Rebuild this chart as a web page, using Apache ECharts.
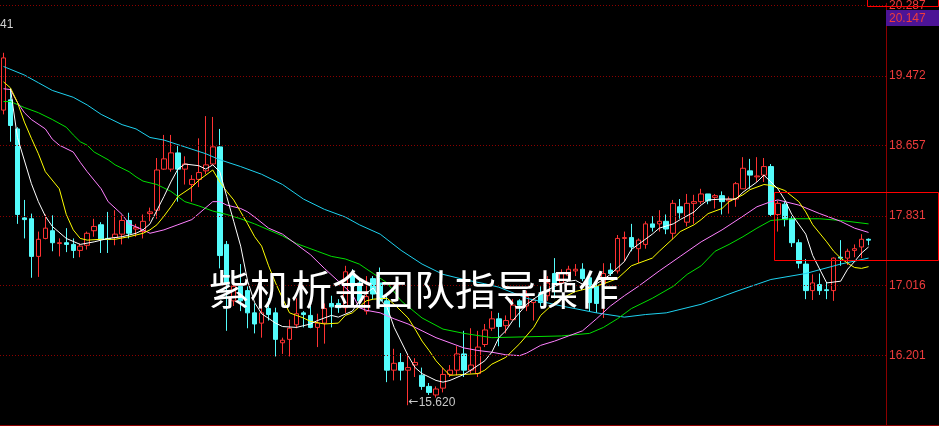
<!DOCTYPE html>
<html><head><meta charset="utf-8">
<script src="https://cdn.jsdelivr.net/npm/echarts@6/dist/echarts.min.js"></script>
<style>html,body{margin:0;padding:0;background:#000;}#c{width:939px;height:426px;}</style>
</head><body><div id="c"></div>
<script>
// ---- tick labels / annotations ----
const yTicks = [20.287, 19.472, 18.657, 17.831, 17.016, 16.201];
const lastPrice = 20.147;
const lowPrice = 15.620;
const lowIndex = 58;
const watermark = '紫机析金团队指导操作';
const cornerText = '41';
const boxStartIndex = 111, boxTop = 18.115, boxBottom = 17.315;
const topBoxIndex = 124, topBoxBottom = 20.285;

// ---- candles: [open, close, low, high] ----
const ohlc = [
[19.07,19.68,19.02,19.74],[19.19,18.89,18.70,19.32],[18.85,17.85,17.74,18.87],[17.81,17.79,17.57,18.02],
[17.80,17.36,17.11,17.86],[17.36,17.56,17.12,17.65],[17.57,17.69,17.56,17.85],[17.66,17.52,17.42,17.84],
[17.51,17.52,17.36,17.57],[17.52,17.50,17.41,17.69],[17.50,17.43,17.34,17.57],[17.43,17.48,17.35,17.51],
[17.49,17.63,17.44,17.65],[17.66,17.71,17.59,17.80],[17.73,17.56,17.40,17.76],[17.57,17.56,17.40,17.88],
[17.58,17.62,17.49,17.90],[17.62,17.78,17.50,17.84],[17.78,17.63,17.57,17.87],[17.68,17.70,17.59,17.74],
[17.65,17.77,17.57,17.85],[17.86,17.88,17.77,17.93],[17.90,18.37,17.80,18.51],[18.38,18.50,18.37,18.78],
[18.38,18.57,18.35,18.78],[18.57,18.38,18.00,18.65],[18.38,18.44,18.20,18.53],[18.20,18.26,18.00,18.31],
[18.26,18.34,18.17,18.74],[18.36,18.43,18.32,19.00],[18.44,18.64,18.43,18.99],[18.64,17.37,17.22,18.85],
[17.50,17.04,16.49,17.54],[16.84,17.01,16.78,17.10],[17.01,16.84,16.72,17.27],[16.96,16.70,16.52,17.01],
[16.70,16.57,16.46,16.81],[16.58,16.70,16.41,16.96],[16.75,16.68,16.61,16.87],[16.70,16.39,16.19,16.76],
[16.35,16.38,16.22,16.41],[16.39,16.52,16.19,16.62],[16.56,16.69,16.52,16.87],[16.70,16.68,16.53,16.72],
[16.67,16.53,16.52,16.78],[16.53,16.58,16.30,16.69],[16.58,16.75,16.34,16.81],[16.81,16.77,16.53,16.90],
[16.81,16.76,16.70,16.86],[16.76,17.18,16.70,17.25],[17.16,17.01,16.96,17.21],[17.05,16.84,16.78,17.10],
[16.72,16.89,16.68,17.13],[17.10,16.92,16.86,17.13],[17.05,16.84,16.78,17.23],[16.84,16.03,15.89,16.90],
[16.03,16.11,15.91,16.28],[16.12,16.03,15.91,16.23],[16.03,16.06,15.62,16.20],[16.09,16.12,15.95,16.17],
[15.97,15.84,15.80,16.06],[15.84,15.77,15.74,15.88],[15.74,15.81,15.71,15.84],[15.82,15.98,15.77,16.06],
[15.98,16.03,15.95,16.09],[16.03,16.22,15.97,16.31],[16.22,16.03,15.95,16.49],[16.03,16.09,15.99,16.52],
[15.99,16.30,15.95,16.49],[16.33,16.50,16.30,16.57],[16.52,16.63,16.49,16.72],[16.63,16.54,16.31,16.70],
[16.55,16.61,16.46,16.67],[16.62,16.79,16.61,16.86],[16.84,16.79,16.53,16.86],[16.78,16.89,16.72,16.96],
[16.82,16.85,16.61,16.87],[16.92,16.82,16.78,17.01],[16.90,17.05,16.84,17.13],[17.16,17.04,16.87,17.34],
[17.05,17.16,16.96,17.21],[17.14,17.21,17.07,17.25],[17.19,17.21,17.13,17.27],[17.21,17.10,17.07,17.28],
[17.11,16.82,16.72,17.13],[17.01,16.81,16.70,17.05],[17.04,17.16,16.64,17.28],[17.20,17.16,17.13,17.28],
[17.19,17.57,17.16,17.61],[17.57,17.58,17.30,17.65],[17.58,17.47,17.42,17.74],[17.45,17.55,17.28,17.57],
[17.50,17.74,17.45,17.77],[17.74,17.70,17.65,17.83],[17.74,17.77,17.65,17.90],[17.77,17.68,17.62,17.85],
[17.63,17.98,17.56,18.02],[17.94,17.87,17.80,18.03],[17.76,17.98,17.71,18.09],[17.98,18.00,17.74,18.08],
[18.00,18.09,17.97,18.15],[18.09,18.01,17.97,18.09],[18.05,18.07,17.92,18.09],[18.07,18.00,17.85,18.12],
[18.01,18.03,17.86,18.06],[18.03,18.21,17.94,18.23],[18.15,18.39,18.15,18.52],[18.36,18.31,18.15,18.50],
[18.29,18.30,18.23,18.52],[18.31,18.41,18.23,18.51],[18.41,17.85,17.83,18.44],[17.85,17.98,17.65,18.01],
[17.97,17.79,17.71,18.00],[17.80,17.52,17.47,17.83],[17.52,17.28,17.22,17.56],[17.27,16.96,16.86,17.33],
[16.96,17.05,16.85,17.15],[17.03,16.96,16.91,17.16],[16.97,16.96,16.86,17.06],[16.96,17.34,16.84,17.35],
[17.35,17.34,17.25,17.55],[17.34,17.42,17.26,17.45],[17.43,17.45,17.35,17.50],[17.47,17.56,17.34,17.62],
[17.56,17.55,17.49,17.57]
];

// ---- moving-average lines: [candle index, value] ----
const ma5 = [[1,19.32],[2,18.75],[4,18.21],[5,18.00],[6,17.83],[7,17.71],[9,17.57],[11,17.50],[13,17.53],[15,17.57],[17,17.59],[19,17.63],[20,17.67],[21,17.74],[23,18.06],[24,18.23],[25,18.38],[26,18.44],[28,18.42],[29,18.38],[30,18.43],[31,18.35],[32,18.06],[33,17.77],[34,17.48],[35,17.07],[36,16.82],[37,16.69],[39,16.58],[40,16.54],[42,16.53],[44,16.57],[45,16.61],[47,16.67],[48,16.65],[50,16.72],[51,16.84],[52,16.93],[53,16.99],[54,16.86],[55,16.76],[56,16.53],[58,16.20],[59,16.06],[60,15.99],[62,15.91],[63,15.89],[64,15.91],[66,15.98],[67,16.03],[69,16.14],[70,16.24],[71,16.41],[72,16.49],[73,16.61],[75,16.80],[77,16.92],[79,17.01],[81,17.07],[82,17.08],[84,16.99],[86,17.09],[87,17.15],[89,17.30],[90,17.44],[91,17.50],[93,17.62],[94,17.69],[96,17.74],[97,17.79],[99,17.88],[100,17.96],[101,18.02],[103,18.03],[105,18.03],[106,18.11],[108,18.23],[109,18.31],[110,18.23],[111,18.15],[112,18.02],[113,17.85],[115,17.62],[116,17.37],[117,17.21],[118,17.05],[120,17.07],[121,17.21],[122,17.30],[123,17.40],[124,17.47]];
const ma10 = [[0,19.40],[1,19.33],[2,19.16],[3,18.93],[4,18.74],[5,18.56],[6,18.35],[8,18.15],[9,17.85],[10,17.67],[11,17.57],[12,17.55],[14,17.56],[16,17.56],[18,17.59],[20,17.63],[21,17.67],[22,17.73],[23,17.83],[24,17.94],[25,18.06],[27,18.17],[28,18.25],[30,18.37],[31,18.23],[32,18.12],[33,18.02],[34,17.88],[35,17.74],[36,17.59],[37,17.48],[38,17.25],[39,17.05],[40,16.87],[41,16.70],[43,16.64],[44,16.60],[46,16.57],[48,16.58],[49,16.67],[50,16.70],[51,16.77],[52,16.84],[53,16.86],[55,16.87],[56,16.80],[57,16.72],[58,16.64],[59,16.51],[60,16.37],[61,16.26],[62,16.14],[63,16.05],[64,15.97],[66,15.98],[68,15.99],[69,16.03],[70,16.10],[72,16.18],[74,16.34],[76,16.53],[77,16.67],[79,16.82],[80,16.87],[82,16.95],[84,16.99],[86,17.04],[88,17.10],[90,17.25],[91,17.28],[93,17.34],[94,17.42],[96,17.57],[97,17.65],[99,17.73],[100,17.79],[101,17.86],[103,17.92],[104,18.00],[106,18.08],[107,18.14],[109,18.20],[110,18.19],[112,18.13],[114,18.00],[115,17.88],[116,17.73],[118,17.53],[119,17.42],[120,17.34],[121,17.28],[122,17.23],[123,17.22],[124,17.24]];
const ma20 = [[0,19.32],[1,19.31],[2,19.16],[3,19.04],[4,18.96],[6,18.85],[7,18.73],[8,18.66],[10,18.58],[11,18.46],[12,18.35],[14,18.15],[15,18.00],[17,17.85],[18,17.74],[20,17.67],[21,17.63],[23,17.67],[25,17.73],[27,17.79],[28,17.86],[30,18.00],[31,18.00],[32,17.96],[34,17.92],[35,17.88],[36,17.82],[38,17.69],[40,17.62],[42,17.50],[44,17.38],[46,17.22],[48,17.07],[50,16.92],[51,16.76],[52,16.73],[54,16.70],[56,16.63],[58,16.57],[60,16.49],[62,16.41],[64,16.35],[66,16.29],[68,16.26],[70,16.24],[72,16.21],[74,16.20],[75,16.23],[77,16.32],[79,16.37],[81,16.43],[83,16.49],[85,16.63],[87,16.78],[89,16.90],[91,17.01],[94,17.19],[97,17.36],[100,17.53],[103,17.67],[106,17.83],[108,17.94],[110,18.00],[111,18.02],[114,17.96],[117,17.86],[120,17.77],[122,17.69],[124,17.64]];
const ma30 = [[0,19.17],[1,19.17],[3,19.10],[5,19.04],[7,18.96],[9,18.87],[10,18.78],[11,18.70],[12,18.66],[13,18.58],[15,18.49],[16,18.43],[18,18.35],[19,18.29],[20,18.24],[22,18.20],[24,18.12],[26,18.00],[28,17.95],[30,17.89],[32,17.85],[34,17.80],[36,17.74],[38,17.67],[40,17.60],[42,17.51],[45,17.42],[47,17.36],[49,17.33],[51,17.27],[53,17.16],[55,17.05],[57,16.84],[60,16.64],[63,16.51],[66,16.46],[70,16.41],[75,16.42],[80,16.43],[84,16.46],[86,16.53],[88,16.63],[90,16.75],[93,16.87],[96,17.01],[98,17.15],[100,17.25],[102,17.42],[104,17.50],[106,17.59],[108,17.69],[110,17.78],[113,17.80],[117,17.80],[120,17.78],[124,17.74]];
const ma60 = [[0,19.58],[3,19.48],[5,19.39],[7,19.30],[10,19.22],[12,19.13],[14,19.02],[17,18.90],[19,18.85],[21,18.75],[23,18.72],[26,18.64],[29,18.56],[31,18.49],[34,18.41],[37,18.32],[40,18.20],[43,18.03],[46,17.91],[49,17.82],[51,17.73],[54,17.62],[57,17.43],[60,17.27],[63,17.15],[66,17.09],[69,17.04],[71,17.00],[75,16.87],[80,16.78],[85,16.70],[89,16.65],[92,16.68],[95,16.70],[100,16.80],[105,16.95],[110,17.09],[115,17.16],[120,17.27],[124,17.34]];

const categories = [];
for (let i = 0; i < 127; i++) categories.push(String(i));

const yMin = 15.389, yMax = 20.3187;
const RED = '#ff3232', CYAN = '#54fcfc', AXIS = '#8c0000', LABEL = '#f03c3c';
const FONT = 'Arial, "Liberation Sans", sans-serif';

const chart = echarts.init(document.getElementById('c'), null, {renderer: 'canvas'});
function maSeries(data, color) {
  return {type: 'line', data: data, showSymbol: false, symbol: 'none', silent: true, z: 3,
    lineStyle: {width: 1, color: color}, itemStyle: {color: color}};
}
chart.setOption({
  animation: false,
  backgroundColor: '#000000',
  grid: {left: -3, right: 53, top: 0, bottom: 1, containLabel: false},
  xAxis: {type: 'category', data: categories, boundaryGap: true,
    axisLabel: {show: false}, axisTick: {show: false}, splitLine: {show: false},
    axisLine: {show: true, lineStyle: {color: AXIS, width: 1}}},
  yAxis: {type: 'value', position: 'right', min: yMin, max: yMax,
    splitLine: {show: false}, axisTick: {show: false},
    axisLine: {show: true, lineStyle: {color: AXIS, width: 1}},
    axisLabel: {customValues: yTicks, margin: 3, color: LABEL, fontSize: 12, fontFamily: FONT,
      formatter: v => Number(v).toFixed(3)}},
  series: [
    {type: 'candlestick', data: ohlc, barWidth: 5, z: 2,
      itemStyle: {color: '#000000', color0: CYAN, borderColor: RED, borderColor0: CYAN, borderWidth: 1},
      markLine: {silent: true, symbol: ['none', 'none'], animation: false,
        lineStyle: {color: AXIS, type: [1, 2], width: 1},
        label: {show: false},
        data: yTicks.map(v => ({yAxis: v}))},
      markPoint: {silent: true, animation: false,
        data: [{coord: [lowIndex, lowPrice], symbol: 'circle', symbolSize: 1,
          itemStyle: {color: 'rgba(0,0,0,0)'},
          label: {show: true, position: 'right', distance: 0, offset: [0, -3],
            formatter: '{a|←}{b|' + lowPrice.toFixed(3) + '}',
            rich: {a: {color: '#c8c8c8', fontSize: 12, fontFamily: 'DejaVu Sans'},
                   b: {color: '#c8c8c8', fontSize: 12, fontFamily: FONT}}}}]}
    },
    maSeries(ma60, '#1ed2f0'),
    maSeries(ma30, '#00e000'),
    maSeries(ma20, '#ff80ff'),
    maSeries(ma10, '#ffff00'),
    maSeries(ma5, '#ffffff')
  ]
});

const px = i => chart.convertToPixel({xAxisIndex: 0}, i);
const py = v => chart.convertToPixel({yAxisIndex: 0}, v);
const bx = Math.round(px(boxStartIndex) - 3.5) + 0.5;
const by1 = Math.round(py(boxTop)) + 0.5, by2 = Math.round(py(boxBottom)) + 0.5;
const tx = Math.round(px(topBoxIndex) - 1.5) + 0.5;
const ty = Math.round(py(topBoxBottom)) + 0.5;
const lp = py(lastPrice);
chart.setOption({
  graphic: [
    {type: 'rect', z: 50, silent: true, shape: {x: bx, y: by1, width: 938.5 - bx, height: by2 - by1},
      style: {fill: 'none', stroke: '#ff0000', lineWidth: 1}},
    {type: 'rect', z: 50, silent: true, shape: {x: tx, y: -10, width: 938.5 - tx, height: ty + 10},
      style: {fill: 'none', stroke: '#ff0000', lineWidth: 1}},
    {type: 'line', z: 50, silent: true, shape: {x1: 886, y1: 425.5, x2: 939, y2: 425.5},
      style: {stroke: AXIS, lineWidth: 1}},
    {type: 'rect', z: 70, silent: true, shape: {x: 886, y: Math.round(lp - 8), width: 53, height: 16},
      style: {fill: '#4c1496'}},
    {type: 'text', z: 71, silent: true, x: 889, y: Math.round(lp) + 1,
      style: {text: lastPrice.toFixed(3), fill: LABEL, font: '12px ' + FONT, verticalAlign: 'middle'}},
    {type: 'text', z: 60, silent: true, x: 0, y: 19,
      style: {text: cornerText, fill: '#d0d0d0', font: '12px ' + FONT}},
    {type: 'text', z: 100, silent: true, x: 414, y: 289,
      style: {text: watermark, fill: '#ffffff', align: 'center', verticalAlign: 'middle',
        font: '41px "Noto Sans CJK SC", sans-serif'}}
  ]
});
</script></body></html>
